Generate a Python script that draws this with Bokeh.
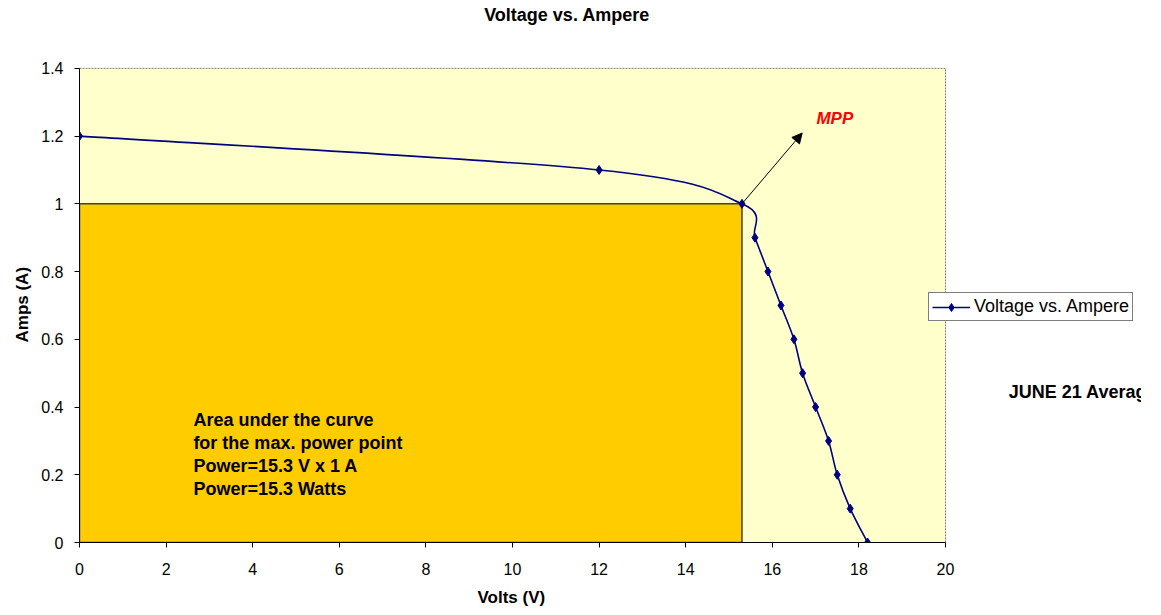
import numpy as np
from bokeh.plotting import figure
from bokeh.models import (Range1d, Label, Arrow, NormalHead, Legend, LegendItem,
                          FixedTicker, NumeralTickFormatter, ColumnDataSource, Title)
from bokeh.embed import file_html
from bokeh.resources import INLINE

# ---- data ----
volts = [0, 12, 15.3, 15.6, 15.9, 16.2, 16.5, 16.7, 17.0, 17.3, 17.5, 17.8, 18.2]
amps = [1.2, 1.1, 1.0, 0.9, 0.8, 0.7, 0.6, 0.5, 0.4, 0.3, 0.2, 0.1, 0.0]
mpp_volts = 15.3
mpp_amps = 1.0
x_ticks = [0, 2, 4, 6, 8, 10, 12, 14, 16, 18, 20]
y_ticks = [0, 0.2, 0.4, 0.6, 0.8, 1.0, 1.2, 1.4]
x_axis_max = 20
y_axis_max = 1.4
series_name = "Voltage vs. Ampere"
title_text = "Voltage vs. Ampere"
x_label = "Volts (V)"
y_label = "Amps (A)"
area_lines = ["Area under the curve", "for the max. power point",
              "Power=15.3 V x 1 A", "Power=15.3 Watts"]
side_note = "JUNE 21 Average"

FONT = "Liberation Sans"
NAVY = "#000080"

# frame extends to the right/top canvas edges so the outside texts are not clipped;
# the visible plot area (0..20, 0..1.4) is drawn as a filled box with bounded axes
p = figure(width=1141, height=615, output_backend="svg", toolbar_location=None,
           title_location=None,
           x_range=Range1d(0, 24.527), y_range=Range1d(0, 1.6004),
           min_border_left=79, min_border_top=0, min_border_right=0,
           min_border_bottom=72)
p.background_fill_color = "white"
p.border_fill_color = "white"
p.outline_line_color = None
p.xgrid.visible = False
p.ygrid.visible = False

for ax in (p.xaxis[0], p.yaxis[0]):
    ax.axis_line_color = "black"
    ax.axis_line_width = 1
    ax.major_tick_out = 5
    ax.major_tick_in = 0
    ax.minor_tick_line_color = None
    ax.major_label_text_font = FONT
    ax.major_label_text_font_size = "16px"
    ax.major_label_text_color = "black"

p.xaxis.bounds = (0, x_axis_max)
p.yaxis.bounds = (0, y_axis_max)
p.xaxis.ticker = FixedTicker(ticks=x_ticks)
p.yaxis.ticker = FixedTicker(ticks=y_ticks)
p.yaxis.formatter = NumeralTickFormatter(format="0.[0]")
p.xaxis.major_label_standoff = 15
p.yaxis.major_label_standoff = 11

# axis titles, positioned on the visible plot area (not on the extended frame)
p.add_layout(Title(text=x_label, align="left", offset=398, standoff=17,
                   text_font=FONT, text_font_size="17px", text_font_style="bold",
                   text_color="black"), "below")
p.add_layout(Title(text=y_label, align="left", offset=200, standoff=14,
                   text_font=FONT, text_font_size="17px", text_font_style="bold",
                   text_color="black"), "left")

# plot area
p.quad(left=[0], right=[x_axis_max], bottom=[0], top=[y_axis_max],
       fill_color="#FFFFCC", line_color="#808080", line_width=1, line_dash="2 1")

# MPP rectangle
p.quad(left=[0], right=[mpp_volts], bottom=[0], top=[mpp_amps],
       fill_color="#FFCC00", line_color="#404040", line_width=1.5)

# smooth curve (Excel-like Catmull-Rom bezier through the data points)
P = np.column_stack([volts, amps]).astype(float)
n = len(P)
x0, y0, x1, y1, cx0, cy0, cx1, cy1 = ([] for _ in range(8))
for i in range(n - 1):
    pm = P[i - 1] if i > 0 else P[i]
    p0 = P[i]
    p1 = P[i + 1]
    p2 = P[i + 2] if i + 2 < n else P[i + 1]
    c0 = p0 + (p1 - pm) / 6.0
    c1 = p1 - (p2 - p0) / 6.0
    x0.append(p0[0]); y0.append(p0[1]); x1.append(p1[0]); y1.append(p1[1])
    cx0.append(c0[0]); cy0.append(c0[1]); cx1.append(c1[0]); cy1.append(c1[1])
bz = ColumnDataSource(dict(x0=x0, y0=y0, x1=x1, y1=y1, cx0=cx0, cy0=cy0, cx1=cx1, cy1=cy1))
r_curve = p.bezier(x0="x0", y0="y0", x1="x1", y1="y1", cx0="cx0", cy0="cy0",
                   cx1="cx1", cy1="cy1", source=bz, line_color=NAVY, line_width=1.6)
r_pts = p.scatter(volts, amps, marker="diamond", size=9,
                  fill_color=NAVY, line_color=NAVY)

# arrow to MPP label
p.add_layout(Arrow(x_start=mpp_volts, y_start=mpp_amps, x_end=16.69, y_end=1.209,
                   line_color="black", line_width=1,
                   end=NormalHead(size=10, fill_color="black", line_color="black")))
p.add_layout(Label(x=17.02, y=1.2526, text="MPP", text_font=FONT, text_font_size="17px",
                   text_font_style="bold italic", text_color="#FF0000",
                   text_baseline="middle", text_align="left"))

# area text
area_y = [0.3625, 0.2947, 0.2269, 0.159]
for t, yy in zip(area_lines, area_y):
    p.add_layout(Label(x=2.63, y=yy, text=t, text_font=FONT, text_font_size="18px",
                       text_font_style="bold", text_color="black",
                       text_baseline="middle", text_align="left"))

# title
p.add_layout(Label(x=11.26, y=1.5587, text=title_text, text_font=FONT,
                   text_font_size="18px", text_font_style="bold", text_color="black",
                   text_baseline="middle", text_align="center"))

# side note (clipped at right edge as in the original)
p.add_layout(Label(x=21.46, y=0.445, text=side_note, text_font=FONT,
                   text_font_size="18px", text_font_style="bold", text_color="black",
                   text_baseline="middle", text_align="left"))

legend = Legend(items=[LegendItem(label=series_name, renderers=[r_curve, r_pts])],
                location=(849, 221), orientation="vertical",
                border_line_color="black", border_line_width=1,
                background_fill_color="white", background_fill_alpha=1,
                label_text_font=FONT, label_text_font_size="18px",
                label_text_color="black", padding=3, margin=0, spacing=0,
                glyph_width=38, glyph_height=20, label_height=20, label_standoff=4)
p.add_layout(legend)

open("out.html", "w").write(file_html(p, INLINE))
